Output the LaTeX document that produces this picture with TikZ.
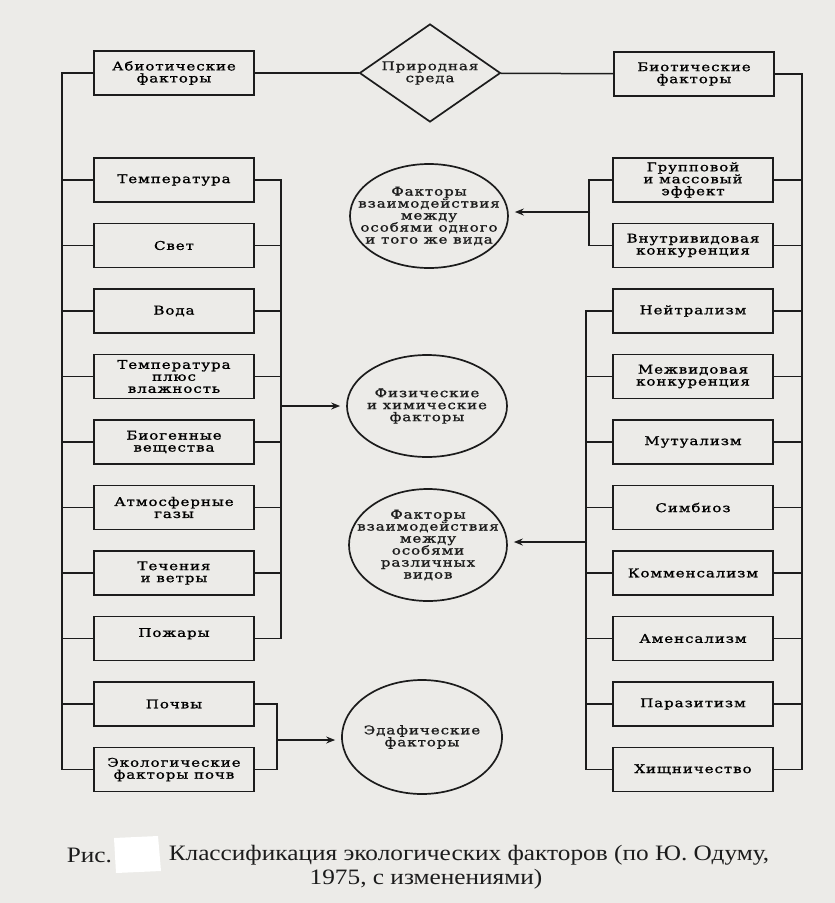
\documentclass[tikz,border=0pt]{standalone}
\usepackage{fontspec}
\setmainfont[FakeStretch=1.15]{Liberation Serif}
\newfontfamily\boxfont[LetterSpace=8, FakeStretch=1.25, FakeBold=1.2]{DejaVu Serif}
\usetikzlibrary{arrows.meta,shapes.geometric}
\definecolor{paper}{HTML}{ECEBE8}
\definecolor{ink}{HTML}{1C1C1C}

\begin{document}
\begin{tikzpicture}[x=1pt, y=-1pt, line width=1.5pt, draw=ink,
    fbox/.style={draw=ink, line width=1.7pt, fill=paper, minimum width=160pt, minimum height=44pt,
        inner sep=1pt, align=center, font=\boxfont\fontsize{12pt}{12pt}\selectfont},
    ell/.style={draw=ink, line width=1.7pt, ellipse, inner sep=0pt},
    ltext/.style={align=center, text=ink, font=\boxfont\fontsize{12pt}{12pt}\selectfont},
    captext/.style={text=ink, inner sep=0pt, font=\fontsize{22pt}{24pt}\selectfont},
    arr/.style={-{Stealth[length=9pt, width=7pt, inset=3pt]}, shorten >=6pt}]
        % Paper
        \fill[paper] (0,0) rectangle (835,903);
        \useasboundingbox (0,0) rectangle (835,903);

        % Top row
        \node[fbox] (abiotic) at (174,73) {Абиотические\\факторы};
        \node[fbox] (biotic) at (694,74) {Биотические\\факторы};
        \node[draw=ink, line width=1.7pt, diamond, minimum width=141pt, minimum height=98pt, inner sep=0pt] (env) at (430,73) {};
        \node[ltext] (envtext) at (env) {Природная\\среда};
        \draw (abiotic) -- (env);
        \draw (env) -- (biotic);

        % Abiotic factors
        \foreach \t [count=\i] in {Температура, Свет, Вода, {Температура\\плюс\\влажность},
                {Биогенные\\вещества}, {Атмосферные\\газы}, {Течения\\и ветры}, {Пожары\\\mbox{}},
                Почвы, {Экологические\\факторы почв}} {
            \node[fbox] (abio\i) at (174,{114.5+65.5*\i}) {\t};
        }

        % Biotic factors
        \foreach \t [count=\i] in {{Групповой\\и массовый\\эффект}, {Внутривидовая\\конкуренция},
                Нейтрализм, {Межвидовая\\конкуренция}, Мутуализм, Симбиоз, Комменсализм,
                Аменсализм, Паразитизм, Хищничество} {
            \node[fbox] (bio\i) at (693,{114.5+65.5*\i}) {\t};
        }

        % Groups of factors
        \node[ell, minimum width=158pt, minimum height=104pt] (intra) at (429,216) {};
        \node[ltext] (intratext) at (intra) {Факторы\\взаимодействия\\между\\особями одного\\и того же вида};
        \node[ell, minimum width=160pt, minimum height=102pt] (phys) at (427,406) {};
        \node[ltext] (physt) at (phys) {Физические\\и химические\\факторы};
        \node[ell, minimum width=158pt, minimum height=112pt] (inter) at (428,545) {};
        \node[ltext] (intertext) at (inter) {Факторы\\взаимодействия\\между\\особями\\различных\\видов};
        \node[ell, minimum width=160pt, minimum height=114pt] (edaph) at (422,737) {};
        \node[ltext] (edaphtext) at (edaph) {Эдафические\\факторы};

        % Left buses
        \draw (abiotic.west) -- ++(-31,0) |- (abio10.west);
        \foreach \i in {1,...,9} {
            \draw (abio\i.west) -- ++(-31,0);
        }
        \draw (abio1.east) -- ++(26,0) |- (abio8.east);
        \foreach \i in {2,...,7} {
            \draw (abio\i.east) -- ++(26,0);
        }
        \draw (abio9.east) -- ++(22,0) |- (abio10.east);

        % Right buses
        \draw (biotic.east) -- ++(27,0) |- (bio10.east);
        \foreach \i in {1,...,9} {
            \draw (bio\i.east) -- ++(27,0);
        }
        \draw (bio1.west) -- ++(-23,0) |- (bio2.west);
        \draw (bio3.west) -- ++(-26,0) |- (bio10.west);
        \foreach \i in {4,...,9} {
            \draw (bio\i.west) -- ++(-26,0);
        }

        % Arrows
        \coordinate (physin) at (280,406);
        \coordinate (edaphin) at (276,740);
        \coordinate (intrain) at (590,212);
        \coordinate (interin) at (587,542);
        \draw[arr] (physin) -- (physin -| phys.west);
        \draw[arr] (edaphin) -- (edaphin -| edaph.west);
        \draw[arr] (intrain) -- (intrain -| intra.east);
        \draw[arr] (interin) -- (interin -| inter.east);

        % Caption
        \fill[white] (114,838) -- (158,836) -- (161,871) -- (116,873) -- cycle;
        \node[captext, anchor=west] (capfig) at (66,855) {Рис.};
        \node[captext, anchor=west] (capmain) at (168,855) {Классификация экологических факторов (по Ю. Одуму,};
        \node[captext] (capyear) at (426,879) {1975, с изменениями)};
    \end{tikzpicture}
\end{document}
